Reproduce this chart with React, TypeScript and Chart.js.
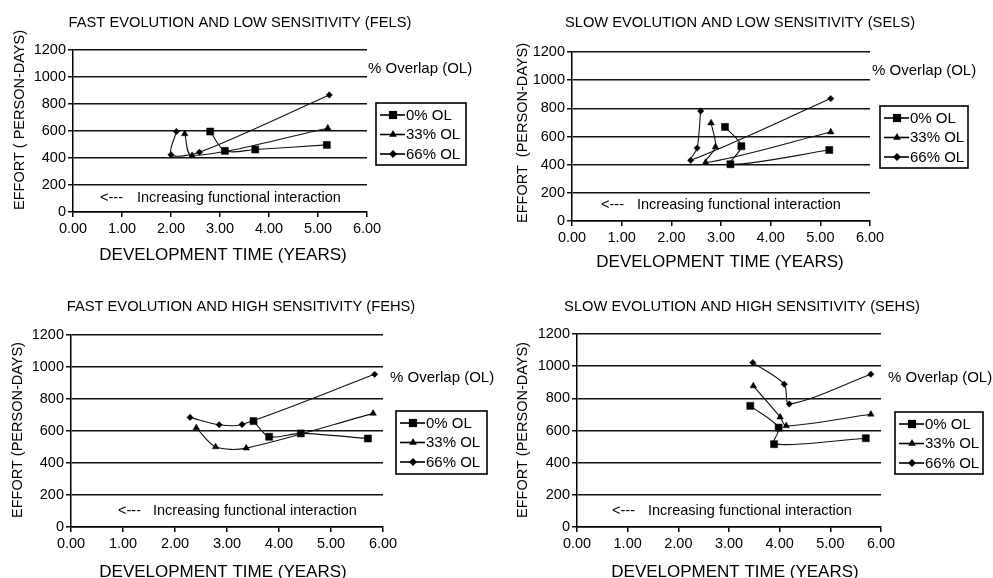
import React, { useEffect, useRef } from "react";
import { Chart, registerables } from "chart.js";

Chart.register(...registerables);

// ---------- DATA ----------
const seriesLabels = ["0% OL", "33% OL", "66% OL"];
const pointStyles = ["rect", "triangle", "rectRot"];
const pointRadii = [5, 3.8, 3.2];

const xTickValues = [0, 1, 2, 3, 4, 5, 6];
const yTickValues = [0, 200, 400, 600, 800, 1000, 1200];

const panelTitles = [
  "FAST EVOLUTION AND LOW SENSITIVITY (FELS)",
  "SLOW EVOLUTION AND LOW SENSITIVITY (SELS)",
  "FAST EVOLUTION AND HIGH SENSITIVITY (FEHS)",
  "SLOW EVOLUTION AND HIGH SENSITIVITY (SEHS)",
];
const yTitles = [
  "EFFORT ( PERSON-DAYS)",
  "EFFORT  (PERSON-DAYS)",
  "EFFORT (PERSON-DAYS)",
  "EFFORT (PERSON-DAYS)",
];
const xTitle = "DEVELOPMENT TIME (YEARS)";
const overlapLabel = "% Overlap (OL)";
const arrowText = "<---";
const annotationText = "Increasing functional interaction";

// FELS
const felsX0 = [2.8, 3.1, 3.72, 5.18];
const felsY0 = [596, 453, 463, 497];
const felsX33 = [2.28, 2.43, 5.2];
const felsY33 = [579, 418, 621];
const felsX66 = [2.11, 2.0, 2.58, 5.23];
const felsY66 = [596, 424, 443, 867];

// SELS
const selsX0 = [3.08, 3.41, 3.19, 5.18];
const selsY0 = [668, 531, 403, 504];
const selsX33 = [2.8, 2.89, 2.69, 5.21];
const selsY33 = [696, 526, 415, 632];
const selsX66 = [2.59, 2.52, 2.39, 5.21];
const selsY66 = [781, 518, 431, 869];

// FEHS
const fehsX0 = [3.51, 3.81, 4.42, 5.71];
const fehsY0 = [662, 564, 585, 553];
const fehsX33 = [2.41, 2.78, 3.37, 5.81];
const fehsY33 = [620, 501, 493, 710];
const fehsX66 = [2.29, 2.85, 3.29, 5.84];
const fehsY66 = [685, 639, 641, 954];

// SEHS
const sehsX0 = [3.42, 3.98, 3.89, 5.7];
const sehsY0 = [753, 618, 515, 552];
const sehsX33 = [3.48, 4.01, 4.13, 5.8];
const sehsY33 = [877, 683, 629, 701];
const sehsX66 = [3.47, 4.09, 4.19, 5.8];
const sehsY66 = [1022, 888, 765, 950];

const panelSeries = [
  [[felsX0, felsY0], [felsX33, felsY33], [felsX66, felsY66]],
  [[selsX0, selsY0], [selsX33, selsY33], [selsX66, selsY66]],
  [[fehsX0, fehsY0], [fehsX33, fehsY33], [fehsX66, fehsY66]],
  [[sehsX0, sehsY0], [sehsX33, sehsY33], [sehsX66, sehsY66]],
];

// ---------- LAYOUT ----------
type Layout = {
  left: number; top: number; w: number; h: number;
  L: number; R: number; T: number; B: number;
  titleX: number; titleY: number;
  ovX: number; ovY: number;
  lgX: number; lgY: number; lgW: number; lgH: number;
  arrowX: number; annX: number; annY: number;
  xtX: number; xtY: number;
  ytX: number; ytY: number;
};

const layouts: Layout[] = [
  { left: 0, top: 0, w: 496, h: 289, L: 73, R: 367, T: 50, B: 212,
    titleX: 240, titleY: 23, ovX: 368, ovY: 69, lgX: 376, lgY: 103, lgW: 90, lgH: 62,
    arrowX: 100, annX: 137, annY: 198, xtX: 223, xtY: 255, ytX: 20, ytY: 120 },
  { left: 495, top: 0, w: 498, h: 289, L: 77, R: 375, T: 52, B: 221,
    titleX: 245, titleY: 23, ovX: 377, ovY: 71, lgX: 385, lgY: 106, lgW: 88, lgH: 62,
    arrowX: 106, annX: 142, annY: 205, xtX: 225, xtY: 262, ytX: 28, ytY: 133 },
  { left: 0, top: 289, w: 496, h: 289, L: 71, R: 383, T: 46, B: 238,
    titleX: 241, titleY: 18, ovX: 390, ovY: 89, lgX: 396, lgY: 122, lgW: 91, lgH: 63,
    arrowX: 118, annX: 153, annY: 222, xtX: 223, xtY: 283, ytX: 18, ytY: 141 },
  { left: 495, top: 289, w: 498, h: 289, L: 82, R: 386, T: 45, B: 238,
    titleX: 247, titleY: 18, ovX: 393, ovY: 89, lgX: 400, lgY: 123, lgW: 88, lgH: 62,
    arrowX: 117, annX: 153, annY: 222, xtX: 240, xtY: 283, ytX: 28, ytY: 141 },
];

const FONT = '"Liberation Sans", Arial, Helvetica, sans-serif';

function drawMarker(ctx: CanvasRenderingContext2D, style: string, r: number, x: number, y: number) {
  ctx.beginPath();
  if (style === "rect") {
    const s = r * Math.SQRT1_2;
    ctx.rect(x - s, y - s, 2 * s, 2 * s);
  } else if (style === "triangle") {
    ctx.moveTo(x, y - r);
    ctx.lineTo(x - r * 0.866, y + r * 0.5);
    ctx.lineTo(x + r * 0.866, y + r * 0.5);
    ctx.closePath();
  } else {
    ctx.moveTo(x, y - r);
    ctx.lineTo(x + r, y);
    ctx.lineTo(x, y + r);
    ctx.lineTo(x - r, y);
    ctx.closePath();
  }
  ctx.fill();
}

function Panel({ idx }: { idx: number }) {
  const ref = useRef<HTMLCanvasElement | null>(null);
  const lay = layouts[idx];

  useEffect(() => {
    if (!ref.current) return;
    const datasets = panelSeries[idx].map(([xs, ys], si) => ({
      label: seriesLabels[si],
      data: xs.map((x, i) => ({ x, y: ys[i] })),
      showLine: true,
      borderColor: "#111",
      borderWidth: 1.1,
      backgroundColor: "#000",
      pointBackgroundColor: "#000",
      pointBorderColor: "#000",
      pointBorderWidth: 0.5,
      pointStyle: pointStyles[si],
      pointRadius: pointRadii[si],
      tension: 0.3,
      fill: false,
    }));

    const textPlugin = {
      id: "panelText" + idx,
      afterDraw(chart: any) {
        const ctx: CanvasRenderingContext2D = chart.ctx;
        ctx.save();
        ctx.fillStyle = "#000";
        ctx.strokeStyle = "#000";
        ctx.textBaseline = "middle";
        // title
        ctx.font = `14.7px ${FONT}`;
        ctx.textAlign = "center";
        ctx.fillText(panelTitles[idx], lay.titleX, lay.titleY);
        // x title
        ctx.font = `17px ${FONT}`;
        ctx.fillText(xTitle, lay.xtX, lay.xtY);
        // y title
        ctx.save();
        ctx.translate(lay.ytX, lay.ytY);
        ctx.rotate(-Math.PI / 2);
        ctx.font = `14.5px ${FONT}`;
        ctx.fillText(yTitles[idx], 0, 0);
        ctx.restore();
        // overlap label
        ctx.textAlign = "left";
        ctx.font = `15px ${FONT}`;
        ctx.fillText(overlapLabel, lay.ovX, lay.ovY);
        // annotation
        ctx.font = `14.5px ${FONT}`;
        ctx.fillText(arrowText, lay.arrowX, lay.annY);
        ctx.fillText(annotationText, lay.annX, lay.annY);
        // legend
        ctx.lineWidth = 1.6;
        ctx.strokeRect(lay.lgX, lay.lgY, lay.lgW, lay.lgH);
        const rows = [12, 31.5, 51];
        const mk = [5.8, 4.4, 4.0];
        ctx.font = `15px ${FONT}`;
        seriesLabels.forEach((lab, i) => {
          const y = lay.lgY + rows[i];
          ctx.lineWidth = 1.6;
          ctx.beginPath();
          ctx.moveTo(lay.lgX + 4, y);
          ctx.lineTo(lay.lgX + 29, y);
          ctx.stroke();
          drawMarker(ctx, pointStyles[i], mk[i], lay.lgX + 17, y);
          ctx.fillText(lab, lay.lgX + 30, y + 0.5);
        });
        ctx.restore();
      },
    };

    const chart = new Chart(ref.current, {
      type: "scatter",
      data: { datasets },
      options: {
        animation: false,
        responsive: false,
        maintainAspectRatio: false,
        devicePixelRatio: 1,
        layout: { padding: { left: 0, top: lay.T, right: lay.w - lay.R, bottom: 0 } },
        plugins: { legend: { display: false }, tooltip: { enabled: false }, title: { display: false } },
        scales: {
          x: {
            type: "linear",
            min: xTickValues[0],
            max: xTickValues[xTickValues.length - 1],
            afterBuildTicks: (s: any) => { s.ticks = xTickValues.map((v) => ({ value: v })); },
            afterFit: (s: any) => { s.height = lay.h - lay.B; },
            ticks: {
              color: "#000",
              font: { family: FONT, size: 14.5 },
              padding: 3,
              maxRotation: 0,
              autoSkip: false,
              callback: (v: any) => Number(v).toFixed(2),
            },
            grid: { drawOnChartArea: false, drawTicks: true, tickLength: 5, color: "#000", lineWidth: 1.5 },
            border: { display: true, color: "#000", width: 1.5 },
          },
          y: {
            type: "linear",
            min: yTickValues[0],
            max: yTickValues[yTickValues.length - 1],
            afterBuildTicks: (s: any) => { s.ticks = yTickValues.map((v) => ({ value: v })); },
            afterFit: (s: any) => { s.width = lay.L; },
            ticks: {
              color: "#000",
              font: { family: FONT, size: 14.5 },
              padding: 2,
              autoSkip: false,
              callback: (v: any) => String(v),
            },
            grid: { drawOnChartArea: true, drawTicks: true, tickLength: 5, color: "#111", lineWidth: 1.5 },
            border: { display: true, color: "#000", width: 1.5 },
          },
        },
      },
      plugins: [textPlugin],
    } as any);
    return () => chart.destroy();
  }, [idx]);

  return (
    <canvas
      ref={ref}
      width={lay.w}
      height={lay.h}
      style={{ position: "absolute", left: lay.left, top: lay.top, width: lay.w, height: lay.h }}
    />
  );
}

export default function App() {
  return (
    <div style={{ position: "absolute", left: 0, top: 0, width: 993, height: 578, background: "#fff", overflow: "hidden" }}>
      {[0, 1, 2, 3].map((i) => (
        <Panel key={i} idx={i} />
      ))}
    </div>
  );
}
